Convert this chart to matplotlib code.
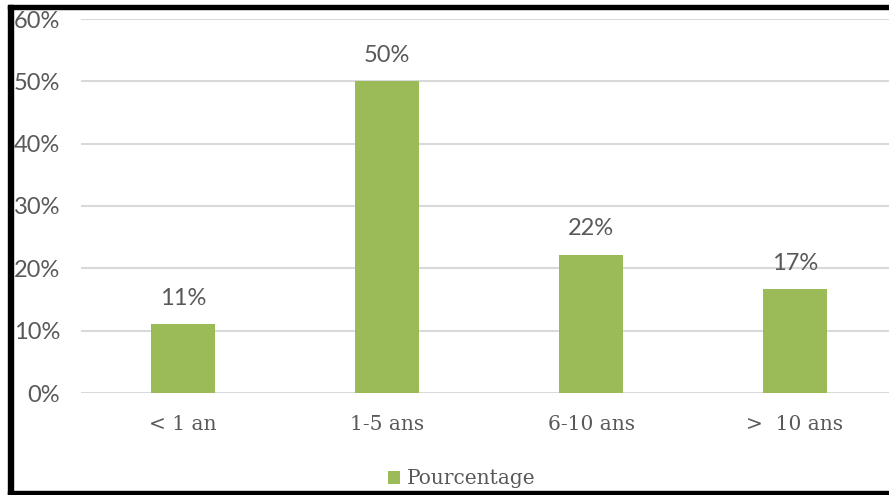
import matplotlib
matplotlib.use("Agg")
import matplotlib.pyplot as plt
from matplotlib.patches import Rectangle
from matplotlib.ticker import FuncFormatter, MultipleLocator

categories = ["< 1 an", "1-5 ans", "6-10 ans", ">  10 ans"]
values = [11.1, 50.0, 22.2, 16.7]
labels = ["11%", "50%", "22%", "17%"]
series_name = "Pourcentage"

W, H = 889, 495
fig = plt.figure(figsize=(W / 100, H / 100), dpi=100)
ax = fig.add_axes([81 / W, 1 - 393 / H, (897 - 81) / W, (393 - 19) / H])

green = "#9BBB59"
txt = "#595959"
sans = ["Lato", "DejaVu Sans"]
serif = ["DejaVu Serif"]

x = range(len(categories))
bars = ax.bar(x, values, width=0.314, color=green, zorder=3, label=series_name)
for xi, v, lab in zip(x, values, labels):
    ax.annotate(lab, (xi, v), xytext=(0, 11), textcoords="offset points",
                ha="center", va="bottom", fontsize=17, color=txt, family=sans)

ax.set_xlim(-0.5, len(categories) - 0.5)
ax.set_ylim(0, 60)
ax.yaxis.set_major_locator(MultipleLocator(10))
ax.yaxis.set_major_formatter(FuncFormatter(lambda v, p: f"{int(v)}%"))
ax.grid(axis="y", color="#D9D9D9", linewidth=1.5, zorder=0)
ax.set_axisbelow(True)
for s in ax.spines.values():
    s.set_visible(False)
ax.tick_params(axis="both", length=0)
ax.tick_params(axis="y", pad=15, labelsize=17, labelcolor=txt)
ax.tick_params(axis="x", pad=16, labelsize=14.5, labelcolor=txt)
for t in ax.get_yticklabels():
    t.set_family(sans)
ax.set_xticks(list(x))
ax.set_xticklabels(categories)
for t in ax.get_xticklabels():
    t.set_family(serif)

leg = fig.legend(handles=[bars], labels=[series_name], loc="center",
                 bbox_to_anchor=(462 / W, 1 - 479 / H), frameon=False,
                 prop={"family": serif, "size": 14.5}, handlelength=0.6,
                 handleheight=0.6, handletextpad=0.35)
for t in leg.get_texts():
    t.set_color(txt)

# outer black border lines
fig.patches.append(Rectangle((8 / W, 0), 5 / W, 1 - 5 / H, transform=fig.transFigure,
                             color="black", zorder=10))
fig.patches.append(Rectangle((8 / W, 1 - 9 / H), 1, 4 / H, transform=fig.transFigure,
                             color="black", zorder=10))
fig.patches.append(Rectangle((8 / W, 0), 1, 4 / H, transform=fig.transFigure,
                             color="black", zorder=10))

fig.savefig("out.png", dpi=100)
